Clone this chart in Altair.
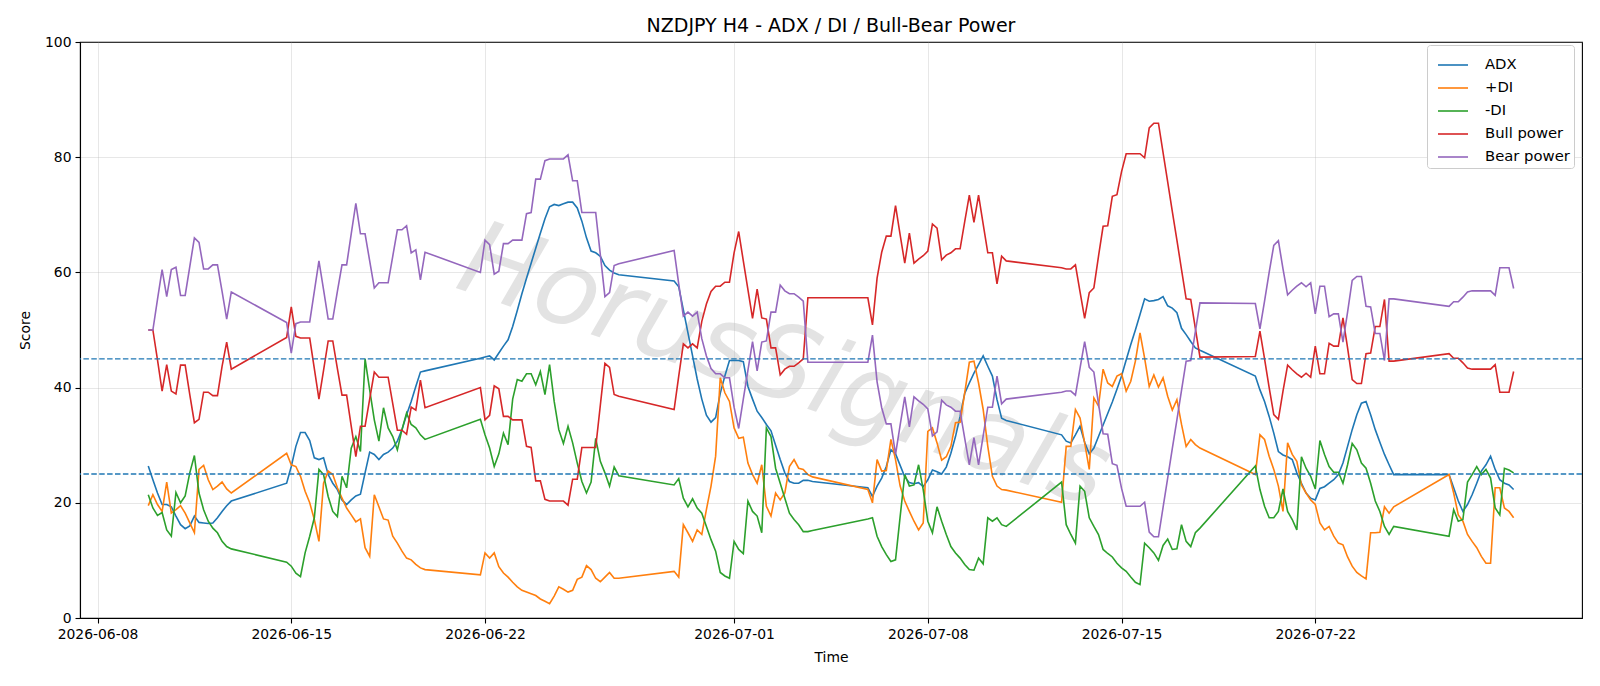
import altair as alt
import pandas as pd

# ---------------- data ----------------
SEGMENTS = [("2026-06-09 20:00", 19), ("2026-06-14 20:00", 31), ("2026-06-21 20:00", 31),
            ("2026-06-28 20:00", 31), ("2026-07-05 20:00", 31), ("2026-07-12 20:00", 31),
            ("2026-07-19 20:00", 31), ("2026-07-26 20:00", 15)]

ADX = [
    26.4, 24.0, 21.7, 19.7, 19.7, 19.3, 17.7, 16.2, 15.5, 16.0, 17.7, 16.6, 16.5, 16.4, 16.5, 17.4, 18.5, 19.5, 20.3,
    23.4, 26.3, 29.8, 32.2, 32.2, 30.8, 27.8, 27.5, 27.8, 24.9, 23.4, 22.3, 20.5, 19.7, 20.5, 21.2, 21.5, 25.2, 28.8, 28.4,
    27.5, 28.4, 28.8, 29.5, 30.7, 32.7, 35.3, 37.6, 40.2, 42.7, 42.9,
    45.1, 45.3, 45.5, 44.8, 46.0, 47.2, 48.3, 50.6, 53.4, 56.3, 59.0, 61.6, 64.2, 66.8, 69.3, 71.4, 71.8, 71.6, 71.9, 72.2,
    72.2, 71.2, 68.9, 66.0, 63.7, 63.4, 62.8, 61.2, 60.4, 59.9, 59.6,
    58.5, 57.5, 53.5, 49.5, 45.5, 41.5, 38.0, 35.2, 34.0, 34.8, 39.0, 42.0, 44.7, 44.7, 44.7, 44.5, 40.2, 38.0, 35.9, 34.8,
    33.6, 32.5, 30.0, 27.5, 25.2, 23.7, 23.4, 23.4, 23.9, 23.9, 23.7,
    22.6, 21.1, 22.9, 24.3, 26.3, 29.2, 28.5, 26.5, 24.5, 23.5, 23.3, 23.5, 22.8, 24.0, 25.7, 25.4, 25.0, 26.2, 28.6, 31.5,
    35.0, 39.0, 40.8, 42.5, 44.0, 45.5, 43.7, 42.0, 37.9, 34.7, 34.3,
    31.8, 30.7, 30.4, 31.8, 33.3, 30.5, 28.5, 29.5, 31.5, 33.5, 35.5, 37.5, 39.7, 42.0, 44.8, 47.5, 50.0, 52.7, 55.4, 55.0,
    55.1, 55.3, 55.8, 54.2, 53.8, 53.0, 50.3, 49.2, 48.0, 46.9, 46.5,
    42.0, 39.6, 37.6, 35.0, 32.1, 28.9, 28.3, 28.0, 27.5, 25.2, 23.4, 21.7, 20.8, 20.5, 22.5, 22.8, 23.4, 24.0, 24.9, 26.9,
    29.8, 32.7, 35.3, 37.3, 37.6, 35.3, 32.7, 30.5, 28.4, 26.6, 24.9,
    24.9, 22.6, 20.3, 18.5, 19.7, 21.4, 23.4, 25.5, 26.6, 28.1, 25.8, 24.0, 23.4, 23.1, 22.3,
]

PLUS_DI = [
    19.5, 21.4, 19.7, 18.5, 23.6, 18.2, 18.8, 19.5, 18.2, 16.5, 14.8, 25.8, 26.5, 24.0, 22.3, 22.9, 23.6, 22.4, 21.7,
    28.6, 26.6, 26.3, 24.6, 22.0, 20.0, 17.1, 13.3, 23.4, 25.5, 24.9, 22.6, 20.8, 19.1, 17.9, 16.7, 17.2, 12.2, 10.7, 21.4,
    19.3, 17.2, 17.0, 14.2, 13.0, 11.6, 10.4, 10.1, 9.3, 8.7, 8.4,
    7.5, 11.3, 10.4, 11.3, 8.9, 7.8, 7.1, 6.2, 5.4, 4.8, 4.5, 4.2, 3.9, 3.3, 2.9, 2.5, 3.8, 5.4, 5.0, 4.5,
    4.8, 6.7, 7.1, 9.1, 8.4, 6.9, 6.3, 7.1, 7.9, 6.9, 6.9,
    8.1, 7.1, 16.2, 14.8, 13.3, 15.3, 14.5, 18.8, 22.9, 28.1, 41.7, 39.1, 37.6, 33.0, 31.2, 31.4, 26.9, 24.9, 23.4, 26.6,
    19.4, 17.7, 21.7, 20.5, 21.7, 26.3, 27.5, 26.0, 25.8, 24.9, 24.5,
    22.3, 20.0, 27.5, 25.5, 25.6, 31.0, 27.5, 22.9, 20.3, 18.5, 16.8, 15.3, 16.5, 32.4, 33.0, 30.4, 27.4, 28.0, 29.8, 33.9,
    34.0, 39.1, 44.4, 44.6, 40.8, 36.2, 29.8, 24.6, 22.9, 22.3, 22.2,
    20.1, 29.8, 29.8, 36.2, 34.7, 30.4, 25.8, 38.2, 36.8, 43.2, 40.8, 40.2, 42.0, 42.4, 39.4, 41.1, 44.6, 49.5, 45.1, 40.2,
    42.2, 40.1, 41.7, 38.5, 36.1, 37.9, 33.6, 29.8, 31.0, 30.1, 29.5,
    24.9, 31.8, 31.0, 28.1, 25.8, 22.9, 18.5, 30.4, 28.4, 27.2, 23.1, 21.7, 20.5, 19.7, 16.5, 15.3, 15.9, 14.2, 13.0, 12.7,
    10.6, 9.0, 7.9, 7.3, 6.8, 14.8, 14.8, 14.9, 19.3, 18.2, 19.3,
    24.9, 21.7, 17.9, 16.8, 14.5, 13.3, 12.2, 10.7, 9.5, 9.5, 22.6, 22.6, 19.1, 18.5, 17.4,
]

MINUS_DI = [
    21.4, 19.1, 17.8, 18.3, 15.3, 14.2, 21.8, 20.0, 21.2, 25.2, 28.2, 21.7, 18.8, 16.8, 15.6, 14.8, 13.3, 12.4, 12.0,
    9.7, 9.0, 7.8, 7.2, 11.3, 14.2, 17.4, 25.8, 24.9, 21.1, 18.5, 17.6, 24.6, 22.6, 29.5, 31.5, 28.9, 45.0, 39.6, 34.4,
    30.7, 36.5, 33.0, 31.5, 29.2, 32.7, 35.6, 33.6, 33.0, 31.8, 31.0,
    34.5, 31.8, 29.5, 26.3, 28.5, 32.1, 30.1, 38.0, 41.4, 41.1, 42.4, 42.4, 40.5, 42.8, 38.8, 44.0, 37.6, 32.7, 30.3, 33.3,
    30.4, 26.9, 23.7, 21.7, 23.6, 31.2, 27.2, 25.2, 22.9, 26.2, 24.7,
    23.1, 24.2, 20.8, 19.3, 20.7, 19.1, 18.2, 15.9, 13.6, 11.6, 7.9, 7.3, 6.9, 13.3, 11.9, 11.2, 20.3, 18.5, 17.7, 14.8,
    33.0, 31.5, 26.0, 23.4, 20.8, 18.2, 17.1, 16.2, 15.0, 15.0, 15.2,
    17.2, 17.4, 14.2, 12.4, 11.0, 9.8, 10.1, 17.6, 24.9, 22.9, 23.1, 26.6, 22.3, 16.8, 14.8, 19.3, 16.8, 14.5, 12.4, 11.3,
    10.4, 9.3, 8.4, 8.3, 10.4, 9.4, 17.4, 16.8, 17.4, 16.2, 15.9,
    23.6, 16.2, 14.5, 13.0, 22.9, 22.0, 17.4, 15.9, 14.5, 11.9, 11.2, 10.6, 9.5, 8.7, 8.1, 7.1, 6.2, 5.8, 13.0, 12.2,
    11.3, 10.0, 12.6, 13.7, 11.9, 12.0, 16.2, 13.3, 12.4, 14.8, 15.6,
    26.4, 22.3, 19.4, 17.4, 17.4, 18.5, 22.4, 18.5, 17.1, 15.3, 28.0, 26.0, 24.6, 22.4, 30.8, 28.4, 26.3, 25.3, 25.3, 23.4,
    26.6, 30.3, 29.2, 26.9, 26.0, 23.4, 20.3, 18.5, 15.9, 14.5, 15.9,
    14.2, 18.8, 16.8, 17.1, 23.6, 24.9, 26.3, 24.9, 25.8, 24.3, 19.1, 17.9, 26.0, 25.7, 25.2,
]

BULL = [
    50.0, 50.0, 44.8, 39.4, 44.0, 39.4, 38.9, 43.9, 43.9, 38.8, 33.9, 34.5, 39.2, 39.2, 38.6, 38.6, 43.7, 47.9, 43.2,
    48.7, 54.0, 48.9, 48.6, 48.6, 48.6, 43.3, 38.0, 43.0, 48.1, 48.1, 43.3, 38.7, 38.7, 33.3, 28.0, 33.3, 33.3, 38.0, 42.7,
    41.8, 41.8, 41.8, 37.2, 32.6, 32.6, 31.9, 36.6, 36.1, 41.3, 36.5,
    40.0, 34.4, 35.2, 40.3, 39.8, 35.0, 35.0, 34.4, 34.4, 34.4, 29.8, 29.6, 23.8, 23.8, 20.6, 20.3, 20.3, 20.3, 20.3, 19.6,
    24.1, 24.1, 29.6, 29.6, 29.6, 29.6, 36.9, 44.2, 43.5, 38.8, 38.5,
    36.2, 42.0, 47.6, 46.9, 47.6, 46.9, 51.5, 54.5, 56.7, 57.6, 57.6, 58.3, 58.3, 63.4, 67.1, 62.0, 57.0, 52.0, 57.1, 52.1,
    51.9, 46.9, 46.9, 42.2, 43.2, 43.7, 43.7, 44.3, 45.0, 55.6, 55.6,
    55.6, 50.9, 59.0, 63.5, 66.3, 66.3, 71.6, 66.5, 61.6, 66.8, 61.6, 62.3, 62.9, 63.7, 68.4, 67.7, 62.2, 63.0, 63.4, 64.1,
    64.1, 68.8, 73.4, 68.7, 73.4, 68.4, 63.4, 63.4, 58.0, 62.8, 62.0,
    60.8, 60.6, 60.6, 61.3, 56.6, 52.0, 56.5, 57.3, 62.8, 68.0, 68.1, 73.2, 73.5, 77.5, 80.6, 80.6, 80.6, 80.6, 79.9, 85.1,
    85.9, 85.9, 80.8, 75.7, 70.6, 65.6, 60.5, 55.4, 55.3, 50.3, 45.3,
    45.4, 49.8, 45.0, 40.0, 35.3, 34.5, 39.4, 43.9, 43.1, 42.4, 41.8, 42.5, 41.8, 47.2, 42.4, 42.4, 47.7, 47.2, 47.2, 52.1,
    46.9, 41.4, 40.7, 40.7, 45.9, 46.0, 50.6, 50.6, 55.3, 44.6, 44.6,
    45.9, 45.1, 45.1, 44.3, 43.4, 43.2, 43.2, 43.2, 43.2, 43.2, 44.0, 39.2, 39.2, 39.2, 42.8,
]

BEAR = [
    50.0, 50.0, 55.3, 60.5, 55.8, 60.5, 60.9, 56.0, 56.0, 61.0, 66.0, 65.2, 60.6, 60.6, 61.3, 61.3, 56.7, 51.9, 56.6,
    51.3, 46.0, 51.1, 51.4, 51.4, 51.4, 56.7, 62.0, 57.0, 51.9, 51.9, 56.7, 61.3, 61.3, 66.7, 72.0, 66.7, 66.7, 62.0, 57.3,
    58.2, 58.2, 58.2, 62.8, 67.4, 67.4, 68.1, 63.4, 63.9, 58.7, 63.5,
    60.0, 65.6, 64.8, 59.7, 60.2, 65.0, 65.0, 65.6, 65.6, 65.6, 70.2, 70.4, 76.2, 76.2, 79.4, 79.7, 79.7, 79.7, 79.7, 80.4,
    75.9, 75.9, 70.4, 70.4, 70.4, 70.4, 63.1, 55.8, 56.5, 61.2, 61.5,
    63.8, 58.0, 52.4, 53.1, 52.4, 53.1, 48.5, 45.5, 43.3, 42.4, 42.4, 41.7, 41.7, 36.6, 32.9, 38.0, 43.0, 48.0, 42.9, 47.9,
    48.1, 53.1, 53.1, 57.8, 56.8, 56.3, 56.3, 55.7, 55.0, 44.4, 44.4,
    44.4, 49.1, 41.0, 36.5, 33.7, 33.7, 28.4, 33.5, 38.4, 33.2, 38.4, 37.7, 37.1, 36.3, 31.6, 32.3, 37.8, 37.0, 36.6, 35.9,
    35.9, 31.2, 26.6, 31.3, 26.6, 31.6, 36.6, 36.6, 42.0, 37.2, 38.0,
    39.2, 39.4, 39.4, 38.7, 43.4, 48.0, 43.5, 42.7, 37.2, 32.0, 31.9, 26.8, 26.5, 22.5, 19.4, 19.4, 19.4, 19.4, 20.1, 14.9,
    14.1, 14.1, 19.2, 24.3, 29.4, 34.4, 39.5, 44.6, 44.7, 49.7, 54.7,
    54.6, 50.2, 55.0, 60.0, 64.7, 65.5, 60.6, 56.1, 56.9, 57.6, 58.2, 57.5, 58.2, 52.8, 57.6, 57.6, 52.3, 52.8, 52.8, 47.9,
    53.1, 58.6, 59.3, 59.3, 54.1, 54.0, 49.4, 49.4, 44.7, 55.4, 55.4,
    54.1, 54.9, 54.9, 55.7, 56.6, 56.8, 56.8, 56.8, 56.8, 56.8, 56.0, 60.8, 60.8, 60.8, 57.2,
]

SERIES = ["ADX", "+DI", "-DI", "Bull power", "Bear power"]
COLORS = ["#1f77b4", "#ff7f0e", "#2ca02c", "#d62728", "#9467bd"]
THRESHOLDS = [25, 45]
Y_TICKS = [0, 20, 40, 60, 80, 100]
X_TICKS = [(6, 8), (6, 15), (6, 22), (7, 1), (7, 8), (7, 15), (7, 22)]
TITLE = "NZDJPY H4 - ADX / DI / Bull-Bear Power"
WATERMARK = "HorusSignals"

# ---------------- build table ----------------
times = []
for start, n in SEGMENTS:
    times.extend(pd.date_range(start, periods=n, freq="4h"))

wide = pd.DataFrame({"Time": times, "ADX": ADX, "+DI": PLUS_DI, "-DI": MINUS_DI,
                     "Bull power": BULL, "Bear power": BEAR})
wide["Time"] = wide["Time"].dt.strftime("%Y-%m-%dT%H:%M:%S")
df = wide.melt(id_vars="Time", var_name="Series", value_name="Score")

x_enc = alt.X(
    "Time:T",
    scale=alt.Scale(domain=[alt.DateTime(year=2026, month=6, date=7, hours=8, minutes=48),
                            alt.DateTime(year=2026, month=7, date=31, hours=15, minutes=17)]),
    axis=alt.Axis(values=[alt.DateTime(year=2026, month=m, date=d) for m, d in X_TICKS],
                  format="%Y-%m-%d", labelAngle=0, title="Time", labelFlush=False,
                  labelOverlap=False, titlePadding=10),
)
y_scale = alt.Scale(domain=[0, 100], nice=False)

lines = alt.Chart(df).mark_line(strokeWidth=1.6).encode(
    x=x_enc,
    y=alt.Y("Score:Q", scale=y_scale,
            axis=alt.Axis(values=Y_TICKS, title="Score", titlePadding=12)),
    color=alt.Color(
        "Series:N",
        scale=alt.Scale(domain=SERIES, range=COLORS),
        sort=SERIES,
        legend=alt.Legend(title=None, orient="none", legendX=1347, legendY=3,
                          symbolType="stroke", symbolSize=900, symbolStrokeWidth=1.6,
                          symbolOffset=6, rowPadding=0,
                          labelFontSize=14.8, labelFont="DejaVu Sans", labelColor="black",
                          labelAlign="left", labelOffset=16, padding=4,
                          strokeColor="#cccccc", fillColor="white", cornerRadius=3),
    ),
)

rules = alt.Chart(pd.DataFrame({"Score": THRESHOLDS})).mark_rule(
    color="#1f77b4", strokeDash=[5.5, 2.4], strokeWidth=1.3
).encode(y=alt.Y("Score:Q", scale=y_scale))

watermark = alt.Chart(pd.DataFrame({"t": [WATERMARK]})).mark_text(
    fontSize=104, font="DejaVu Sans", fontWeight=200, fontStyle="italic",
    color="#bdbdbd", opacity=0.42, angle=19, align="center", baseline="middle"
).encode(text="t:N", x=alt.value(704), y=alt.value(326))

chart = alt.layer(watermark, lines, rules).properties(
    width=1502, height=576,
    title=alt.TitleParams(TITLE, fontSize=19, fontWeight="normal", font="DejaVu Sans",
                          color="black", offset=-1, anchor="middle", frame="group"),
    autosize=alt.AutoSizeParams(type="none"),
    padding={"left": 80, "top": 42, "right": 18, "bottom": 68},
).configure(
    font="DejaVu Sans", background="white"
).configure_view(
    stroke="black", strokeWidth=1.1, fill="white"
).configure_axis(
    domainColor="black", domainWidth=1.1, tickColor="black", tickWidth=1.1, tickSize=5,
    labelColor="black", titleColor="black", labelFontSize=13.9, titleFontSize=13.9,
    titleFontWeight="normal", labelPadding=4, grid=True, gridColor="#b0b0b0",
    gridOpacity=0.3, gridWidth=1, labelFont="DejaVu Sans", titleFont="DejaVu Sans",
)

chart.save("out.html", embed_options={"renderer": "svg", "actions": False})
